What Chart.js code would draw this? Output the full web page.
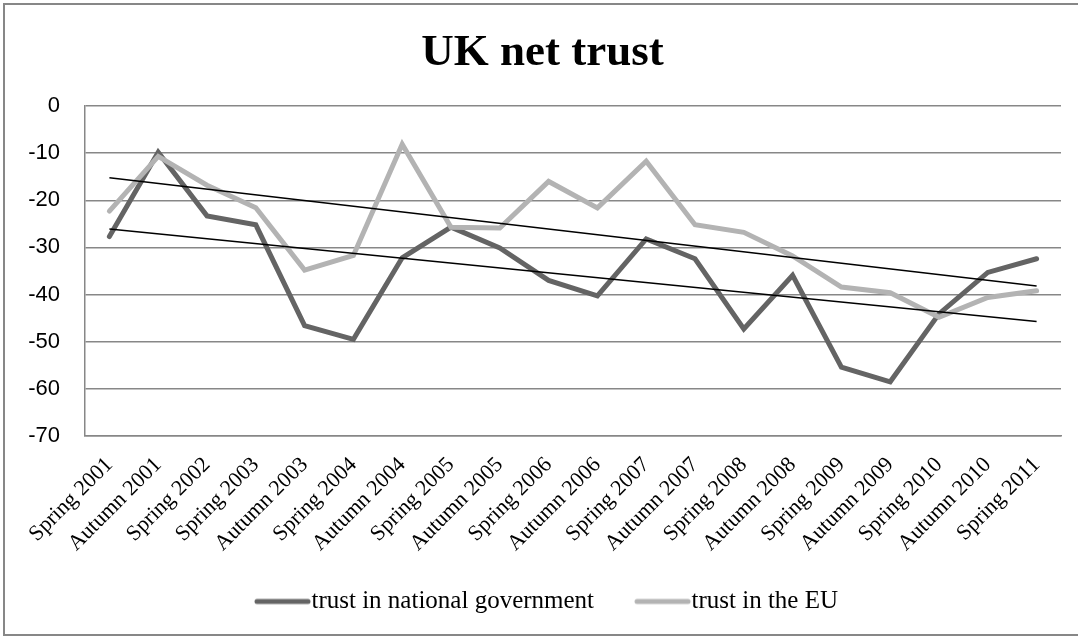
<!DOCTYPE html>
<html>
<head>
    <title>UK net trust</title>
    <script src="https://cdn.jsdelivr.net/npm/chart.js"></script>
    <style>
        body { margin: 0; background: #fff; }
        #wrap { width: 1078px; height: 637px; }
    </style>
</head>
<body>
    <div id="wrap"><canvas id="figure" width="1078" height="637"></canvas></div>

    <script>
        var periods = ['Spring 2001', 'Autumn 2001', 'Spring 2002', 'Spring 2003', 'Autumn 2003',
            'Spring 2004', 'Autumn 2004', 'Spring 2005', 'Autumn 2005', 'Spring 2006',
            'Autumn 2006', 'Spring 2007', 'Autumn 2007', 'Spring 2008', 'Autumn 2008',
            'Spring 2009', 'Autumn 2009', 'Spring 2010', 'Autumn 2010', 'Spring 2011'];

        var trustGovernment = [-27.7, -9.8, -23.3, -25.2, -46.6, -49.5, -32.2, -25.7, -30.1, -37.0,
            -40.3, -28.2, -32.4, -47.3, -35.9, -55.4, -58.5, -44.1, -35.3, -32.4];

        var trustEU = [-22.3, -10.7, -16.8, -21.6, -34.8, -31.7, -8.1, -25.7, -25.9, -16.0,
            -21.6, -11.7, -25.2, -26.8, -31.8, -38.4, -39.6, -44.8, -40.6, -39.2];

        // linear trend lines: value at first and last period
        var trendGovernment = [-26.1, -45.7];
        var trendEU = [-15.2, -38.2];

        var yTicks = [0, -10, -20, -30, -40, -50, -60, -70];

        var darkGrey = '#646464';
        var lightGrey = '#b3b3b3';

        function endpoints(pair) {
            var arr = periods.map(function () { return null; });
            arr[0] = pair[0];
            arr[arr.length - 1] = pair[1];
            return arr;
        }

        // legend swatch: a thick line ending just before the label text
        function swatch(color) {
            var c = document.createElement('canvas');
            c.width = 104;
            c.height = 10;
            var g = c.getContext('2d');
            g.strokeStyle = color;
            g.lineWidth = 5;
            g.lineCap = 'round';
            g.beginPath();
            g.moveTo(36, 5);
            g.lineTo(87, 5);
            g.stroke();
            return c;
        }

        var frame = {
            id: 'frame',
            beforeDraw: function (chart) {
                var ctx = chart.ctx;
                ctx.save();
                ctx.fillStyle = '#fff';
                ctx.fillRect(0, 0, chart.width, chart.height);
                ctx.strokeStyle = '#878787';
                ctx.lineWidth = 2;
                ctx.strokeRect(4, 4, chart.width + 10, 631);
                ctx.restore();
            }
        };

        var ctx = document.getElementById('figure').getContext('2d');

        new Chart(ctx, {
            type: 'line',
            data: {
                labels: periods,
                datasets: [{
                    label: 'trust in national government',
                    data: trustGovernment,
                    borderColor: darkGrey,
                    backgroundColor: darkGrey,
                    borderWidth: 5,
                    borderCapStyle: 'round',
                    pointRadius: 0,
                    pointStyle: swatch(darkGrey),
                    order: 3
                }, {
                    label: 'trust in the EU',
                    data: trustEU,
                    borderColor: lightGrey,
                    backgroundColor: lightGrey,
                    borderWidth: 5,
                    borderCapStyle: 'round',
                    pointRadius: 0,
                    pointStyle: swatch(lightGrey),
                    order: 2
                }, {
                    label: 'trend government',
                    data: endpoints(trendGovernment),
                    borderColor: '#000',
                    borderWidth: 1.5,
                    pointRadius: 0,
                    spanGaps: true,
                    order: 1
                }, {
                    label: 'trend EU',
                    data: endpoints(trendEU),
                    borderColor: '#000',
                    borderWidth: 1.5,
                    pointRadius: 0,
                    spanGaps: true,
                    order: 0
                }]
            },
            options: {
                responsive: false,
                animation: false,
                layout: {
                    padding: { left: 24, right: 17, top: 0, bottom: 13 }
                },
                plugins: {
                    title: {
                        display: true,
                        text: 'UK net trust',
                        color: '#000',
                        font: { family: 'Liberation Serif', size: 45, weight: 'bold' },
                        padding: { top: 26, bottom: 26 }
                    },
                    legend: {
                        position: 'bottom',
                        labels: {
                            filter: function (item) { return item.datasetIndex < 2; },
                            sort: function (a, b) { return a.datasetIndex - b.datasetIndex; },
                            usePointStyle: true,
                            pointStyleWidth: 52,
                            padding: 33,
                            color: '#000',
                            font: { family: 'Liberation Serif', size: 25 }
                        }
                    },
                    tooltip: { enabled: false }
                },
                scales: {
                    x: {
                        type: 'category',
                        offset: true,
                        grid: { display: false, drawTicks: false },
                        border: { display: true, color: '#878787', width: 1.5 },
                        ticks: {
                            minRotation: 45,
                            maxRotation: 45,
                            autoSkip: false,
                            padding: 16,
                            color: '#000',
                            font: { family: 'Liberation Serif', size: 22 }
                        },
                        afterFit: function (scale) { scale.height = 120; }
                    },
                    y: {
                        min: -70,
                        max: 0,
                        afterBuildTicks: function (scale) {
                            scale.ticks = yTicks.map(function (v) { return { value: v }; });
                        },
                        grid: { color: '#878787', lineWidth: 1.5, drawTicks: false },
                        border: { display: true, color: '#878787', width: 1.5 },
                        ticks: {
                            padding: 25,
                            color: '#000',
                            font: { family: 'Liberation Sans', size: 22 }
                        },
                        afterFit: function (scale) { scale.width = 61; }
                    }
                }
            },
            plugins: [frame]
        });
    </script>
</body>
</html>
